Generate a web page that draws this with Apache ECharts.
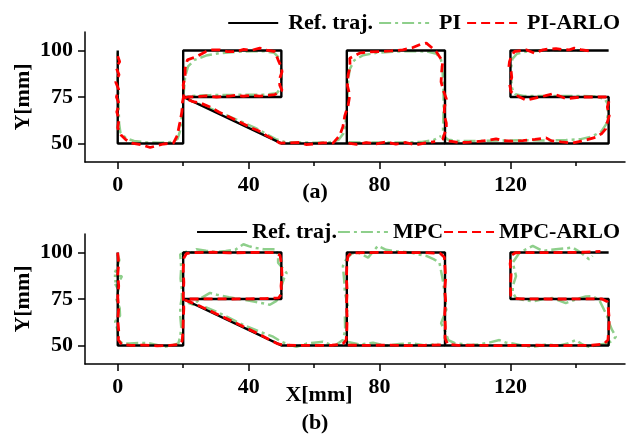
<!DOCTYPE html>
<html>
<head>
<meta charset="utf-8">
<script src="https://cdn.jsdelivr.net/npm/echarts@6/dist/echarts.min.js"></script>
<style>
  html, body { margin: 0; padding: 0; background: #fff; }
  #chart { width: 635px; height: 437px; }
</style>
</head>
<body>
<div id="chart"></div>
<script>
/* ---------------------------- data ---------------------------- */
const xMajorTicks = [0, 40, 80, 120];
const xMinorTicks = [20, 60, 100, 140];
const yTicks = [50, 75, 100];

// reference "LROS" path (O bottom kept as its own piece)
const refPath = [[0, 100], [0, 50], [20, 50], [20, 100], [50, 100], [50, 75], [20, 75], [50, 50], [70, 50],
  [70, 100], [100, 100], [100, 50], [150, 50], [150, 75], [120, 75], [120, 100], [150, 100]];
const refOBottom = [[70, 50], [100, 50]];

// (a) PI
const piPath = [[0, 99], [0.1, 92], [0, 84], [0.2, 76], [0.3, 68], [0.4, 61], [0.8, 56], [2.5, 52.8], [5, 51.3],
  [9, 50.5], [13, 50.4], [16.5, 50.8], [18.3, 52.5], [19.1, 57], [19.5, 63], [19.8, 70], [20.2, 78], [20.6, 86],
  [21.5, 91.5], [23.5, 95], [27, 97.3], [31, 98.6], [36, 99.3], [41, 99.6], [45, 99.6], [47.8, 98.8], [49.3, 96],
  [49.9, 91], [50, 85], [49.8, 80], [48.6, 77], [45, 76.2], [40, 76.2], [34, 76.1], [28, 76], [23, 75.6], [21, 75],
  [22.5, 72.8], [27, 69.8], [32, 66], [37, 62.3], [42, 58.4], [45.5, 55], [48.3, 52.3], [51, 50.8], [55, 50.5],
  [60, 50.4], [64.5, 50.5], [67.5, 52], [69, 55.5], [69.6, 61], [70, 68], [70.2, 76], [70.4, 84], [70.9, 90],
  [72.3, 94.8], [75, 97.5], [79, 98.8], [84, 99.4], [90, 99.7], [94.5, 99.5], [97.4, 98.3], [98.8, 95], [99.3, 88],
  [99.5, 80], [99.6, 72], [99.5, 64], [99.4, 58], [99.5, 54], [101, 52], [104, 51.3], [110, 51.3], [117, 51.6],
  [124, 51.7], [131, 51.6], [137, 51.8], [141.5, 52.3], [145, 53.8], [147.8, 56.5], [149.3, 60.5], [149.8, 66],
  [149.8, 71], [148.8, 74], [146, 75.3], [141, 75.6], [135, 75.6], [129, 75.5], [124, 75.5], [121.5, 76.5],
  [120.5, 79.5], [120.2, 85], [120.2, 91], [120.6, 95.5], [122, 98.3], [125, 99.5], [130, 100], [135, 100.2],
  [140, 100.2], [142.5, 100]];
const piOBottom = [[70.5, 50.6], [76, 50.5], [82, 50.5], [88, 50.6], [93, 50.8], [96.5, 51.8], [98.8, 54]];

// (a) PI-ARLO
const piArloPath = [[0, 97], [0.6, 94], [-0.5, 91], [0.4, 87], [-0.6, 83], [0.3, 79], [-0.4, 75], [0.5, 71],
  [-0.3, 67], [0.4, 63], [0, 58.5], [1, 54.6], [2.5, 52], [4.3, 50.2], [7, 49.4], [9.9, 47.8], [12, 48.8],
  [14, 49.7], [17, 50.2], [18.2, 54.2], [19, 61.4], [19.6, 67], [19.8, 72.3], [20.3, 77], [20, 81.4], [20.6, 86],
  [20.6, 90.4], [21.3, 95], [24, 96.7], [27, 99.5], [29, 100.4], [31.2, 100.4], [33.5, 99.4], [36.3, 99.5],
  [38.5, 100.6], [41, 100.2], [43.4, 101.3], [45.5, 100.3], [48, 99.5], [49, 95], [50, 91], [50.2, 88.6],
  [49.5, 85], [49.5, 81.4], [50.2, 78.6], [48, 76.3], [45.5, 75.8], [43.4, 75.5], [40.5, 75.8], [38.4, 75.4],
  [36, 75.9], [34.3, 75.5], [32, 75.3], [30.2, 75], [27, 75.6], [24, 75.1], [21.5, 75], [20.3, 74.5],
  [23, 72.5], [25.2, 71.8], [28.2, 69.6], [31, 66.8], [34.3, 64.1], [37, 61.8], [40.4, 58.7], [43, 56.8],
  [45.5, 54.2], [47.5, 52.3], [49.5, 50.2], [52, 50.3], [55.6, 50.5], [57.5, 49.4], [59.7, 49.7], [62.5, 50.3],
  [65.8, 50.2], [67.8, 54.2], [68.8, 59], [69.4, 65], [70.4, 70.5], [70.9, 75.9], [70.2, 81], [70.4, 86.8],
  [71, 91.5], [70.9, 95.9], [73.9, 98.6], [76.5, 99.2], [80, 99.5], [83.5, 99.8], [87.1, 100.4], [90, 101.5],
  [92.5, 103.3], [94.3, 104], [96, 101.5], [97.3, 99.5], [99.3, 94], [99, 89], [98.8, 83.2], [99.6, 78],
  [100.4, 74.1], [99.8, 69], [99.8, 65], [100.4, 61], [100.4, 57.8], [99.3, 52.4], [101.5, 51.2], [104.5, 50.4],
  [107.5, 50.7], [111, 51.2], [113.5, 51.8], [115.6, 52.5], [117.6, 51.5], [120.5, 51.2], [123.7, 51.5],
  [127.5, 52.2], [130.9, 53], [132.4, 51.5], [135.5, 50.8], [139, 50.2], [141, 51], [143.5, 52], [146.1, 53.3],
  [148, 55.5], [149.1, 57.8], [149.6, 61.5], [150.2, 65], [149.6, 69.6], [150.2, 73.2], [149.1, 75], [146, 75],
  [142, 75], [139.5, 74.6], [137, 74.1], [135, 75.5], [133, 76.8], [130.5, 75.6], [128.9, 75], [126.5, 74],
  [124.8, 73.2], [122.8, 75], [120.2, 77.7], [119.7, 82.3], [120.4, 85.5], [120.2, 88.6], [119.5, 91],
  [119.7, 94], [120.3, 97], [121.2, 99.5], [124.8, 100.4], [127.3, 98.6], [129.9, 100.4], [131.8, 100.9],
  [133.9, 101], [136, 100.5], [138, 100.4], [139.5, 101.3], [141.5, 100.5], [144, 99.8]];
const piArloOBottom = [[70.5, 50.2], [73, 49.5], [76, 50.4], [79, 49.8], [82, 50.8], [85, 49.6], [88, 50.5],
  [91, 49.2], [94, 50.3], [97, 51]];

// (b) MPC
const mpcPath = [[0, 99], [0.5, 96], [-0.2, 92], [-1.3, 87.5], [1.3, 87.3], [0.5, 84.6], [-1.3, 84.6], [0.2, 80],
  [-0.4, 75], [0.6, 70], [0.7, 66], [-0.8, 62.8], [0, 58], [0.2, 52.9], [1.5, 51], [3.8, 51.1], [6.9, 51.4],
  [9.9, 51.1], [12, 50.2], [14, 49.2], [16.5, 50], [18.5, 51], [19.1, 54.7], [19.4, 60], [19.1, 66], [19.1, 71],
  [19.6, 75.5], [19.6, 80], [19.2, 86], [19.4, 92], [19.1, 99], [21, 100.5], [23.2, 100], [24, 101.8], [27, 101],
  [30, 100.3], [33, 100.8], [36, 101.6], [38.4, 104.5], [40, 103.5], [41.5, 102.7], [44.6, 101.8], [48.5, 101.8],
  [49, 98], [49, 94.6], [51.6, 89], [50.8, 86], [50, 81.8], [50, 77.5], [48.5, 74], [46.5, 71.9], [42, 73.5],
  [38.4, 74.6], [34, 76], [30.3, 77.3], [28.2, 78.3], [25.5, 75.5], [23.1, 71.9], [21.5, 73], [23, 72],
  [27, 70.5], [31, 67.5], [35.3, 63.7], [39, 60.5], [43.4, 57.4], [47.5, 54.7], [50, 52], [52.5, 50.3],
  [54.6, 49.2], [57.7, 51], [60, 51.5], [62.7, 52], [64.5, 50.8], [66.4, 50], [68.8, 52.9], [69.5, 58],
  [69.4, 65.6], [70.5, 70], [69.4, 78.3], [69.2, 85], [68.8, 92.7], [69.7, 96], [71.5, 99.5], [73.4, 100],
  [76.5, 97.3], [78, 100.5], [79.5, 103.6], [82, 101.5], [84.1, 100.9], [89.4, 100], [92, 99], [94.3, 98.2],
  [96.5, 96.5], [98.3, 94.6], [99.3, 85.5], [99.9, 78], [100.4, 69.2], [98.8, 62], [100.2, 57], [101, 52.9],
  [103, 51.2], [105.4, 50.7], [108, 50.2], [110.5, 50.6], [113.5, 51.5], [116.6, 52.9], [118.5, 51.6],
  [120.7, 51], [123.5, 50], [126.8, 49.2], [131, 50.5], [135, 50], [137.5, 51], [140, 52.9], [142, 50.5],
  [144, 49.2], [147, 50.5], [149.5, 51], [151.2, 52.5], [152.2, 54.7], [151, 58.5], [150.2, 62], [149.5, 66],
  [148.6, 69.2], [147.1, 74.6], [145, 76.5], [143, 76.4], [140, 74.8], [136.9, 72.8], [132.9, 75.5],
  [129.8, 74.8], [126.8, 73.7], [124, 74.5], [121.7, 75.5], [120.7, 78.5], [120.7, 81.9], [121.7, 87.3],
  [121.2, 91], [120.7, 94.6], [122.8, 100], [124.8, 101.8], [126.8, 103.6], [129.8, 100.9], [133.9, 101.8],
  [136.5, 102.2], [139, 102.7], [141.5, 100], [144, 96.4], [145.1, 98.2]];
const mpcOBottom = [[70, 52], [74, 50.5], [78, 51.5], [82, 49.8], [86, 50.8], [90, 51.2], [94, 50], [98, 50.8]];

// (b) MPC-ARLO
const mpcArloPath = [[0, 100], [0.3, 94], [0, 88], [0.3, 82], [0, 76], [0.3, 70], [0, 64], [0.3, 58], [0.2, 53],
  [1.2, 50.5], [4, 50], [8, 50.2], [12, 49.8], [16, 50], [18.8, 50.5], [19.7, 52.5], [19.9, 57], [20, 63],
  [20.2, 70], [20, 77], [20.2, 84], [20, 91], [20.2, 97], [21, 99.5], [24, 100], [29, 100.2], [34, 99.8],
  [39, 100], [44, 100.1], [48, 100], [49.6, 98.5], [50, 94], [50.2, 88], [49.9, 82], [50.1, 78], [49.2, 75.6],
  [45, 75.2], [40, 75.1], [35, 75], [30, 75.1], [25, 75], [21.5, 75], [20.5, 74.5], [23, 72.8], [27, 69.6],
  [31, 66.3], [35, 63], [39, 59.6], [43, 56.2], [46.5, 53], [49, 50.8], [51.5, 50.1], [56, 50], [61, 50],
  [65.5, 50.1], [68.8, 50.8], [69.8, 53], [70, 58], [70.1, 65], [69.9, 72], [70.1, 79], [69.9, 86], [70, 93],
  [70.3, 98], [71.5, 99.8], [76, 100], [82, 100.1], [88, 100], [94, 100], [98.5, 99.6], [99.8, 97.5], [100, 92],
  [100.2, 86], [99.9, 80], [100.2, 74], [99.9, 67], [100.1, 60], [100, 54], [100.8, 50.6], [104, 50], [110, 50.1],
  [116, 49.9], [122, 50], [128, 50.1], [134, 49.9], [140, 50], [145, 50.1], [148.6, 50.8], [149.8, 53], [150, 58],
  [150.2, 64], [149.9, 70], [149.6, 73.5], [148, 75], [143, 75.1], [137, 75], [131, 75], [125, 75.1],
  [121.3, 75.2], [120.1, 77], [120, 82], [120.2, 88], [119.9, 94], [120.3, 98.5], [121.5, 99.9], [126, 100],
  [132, 100], [138, 100.1], [143, 100.2], [147.5, 100.6]];
const mpcArloOBottom = [[70.3, 50.2], [76, 50], [82, 50.2], [88, 49.9], [94, 50.1], [99.5, 50.3]];

/* --------------------------- chart ---------------------------- */
const FONT = 'Liberation Serif';
const BLACK = '#000000';
const GREEN = '#8ecf8b';
const RED = '#ff0000';

const refStyle = { color: BLACK, width: 2.4, type: 'solid' };
const greenStyle = { color: GREEN, width: 2.5, type: [12, 4, 3, 4] };
const redStyle = { color: RED, width: 2.8, type: [9, 5] };

const chart = echarts.init(document.getElementById('chart'), null, { renderer: 'canvas' });

const boldText = { fontFamily: FONT, fontWeight: 'bold', fontSize: 22, color: BLACK };

const xMajor = gridIndex => ({
  type: 'value',
  gridIndex,
  position: 'bottom',
  min: -10,
  max: 155,
  axisLine: { show: true, onZero: false, lineStyle: { color: BLACK, width: 1.5 } },
  axisTick: { show: true, customValues: xMajorTicks, length: 7, lineStyle: { color: BLACK, width: 1.5 } },
  axisLabel: { ...boldText, customValues: xMajorTicks, margin: 12 },
  splitLine: { show: false }
});

const xMinor = gridIndex => ({
  type: 'value',
  gridIndex,
  position: 'bottom',
  min: -10,
  max: 155,
  axisLine: { show: false, onZero: false },
  axisTick: { show: true, customValues: xMinorTicks, length: 4, lineStyle: { color: BLACK, width: 1.5 } },
  axisLabel: { show: false },
  splitLine: { show: false }
});

const yAxis = gridIndex => ({
  type: 'value',
  gridIndex,
  min: 40,
  max: 110,
  name: 'Y[mm]',
  nameLocation: 'middle',
  nameGap: 51,
  nameMoveOverlap: false,
  nameTextStyle: boldText,
  axisLine: { show: true, onZero: false, lineStyle: { color: BLACK, width: 1.5 } },
  axisTick: { show: true, customValues: yTicks, length: 7, lineStyle: { color: BLACK, width: 1.5 } },
  axisLabel: { ...boldText, customValues: yTicks, margin: 12 },
  splitLine: { show: false }
});

const line = (name, data, xi, yi, style, z) => ({
  type: 'line',
  name,
  data,
  xAxisIndex: xi,
  yAxisIndex: yi,
  symbol: 'none',
  showSymbol: false,
  lineStyle: style,
  itemStyle: { color: style.color },
  z,
  silent: true
});

// legend: line only, hide the default circle marker
const legendBase = {
  right: 10,
  itemWidth: 50,
  itemHeight: 14,
  itemStyle: { opacity: 0 },
  textStyle: { ...boldText, lineHeight: 24 }
};

chart.setOption({
  animation: false,
  grid: [
    { left: 85, top: 32, width: 540, height: 130 },
    { left: 85, top: 234, width: 540, height: 130 }
  ],
  xAxis: [xMajor(0), xMinor(0), xMajor(1), xMinor(1)],
  yAxis: [yAxis(0), yAxis(1)],
  legend: [
    { ...legendBase, top: 6, itemGap: 5, data: ['Ref. traj.', 'PI', 'PI-ARLO'],
      textStyle: { ...legendBase.textStyle, padding: [0, 0, 0, 5] } },
    { ...legendBase, top: 215, itemGap: 0, data: ['Ref. traj.', 'MPC', 'MPC-ARLO'] }
  ],
  graphic: [
    { type: 'text', x: 315, y: 192, style: { text: '(a)', font: 'bold 22px "Liberation Serif"', fill: BLACK, align: 'center', verticalAlign: 'middle' } },
    { type: 'text', x: 319, y: 395, style: { text: 'X[mm]', font: 'bold 22px "Liberation Serif"', fill: BLACK, align: 'center', verticalAlign: 'middle' } },
    { type: 'text', x: 315, y: 423, style: { text: '(b)', font: 'bold 22px "Liberation Serif"', fill: BLACK, align: 'center', verticalAlign: 'middle' } }
  ],
  series: [
    // (a)
    line('Ref. traj.', refPath, 0, 0, refStyle, 3),
    line('Ref. traj.', refOBottom, 0, 0, refStyle, 3),
    line('PI', piPath, 0, 0, greenStyle, 2),
    line('PI', piOBottom, 0, 0, greenStyle, 2),
    line('PI-ARLO', piArloPath, 0, 0, redStyle, 4),
    line('PI-ARLO', piArloOBottom, 0, 0, redStyle, 4),
    // (b)
    line('Ref. traj.', refPath, 2, 1, refStyle, 3),
    line('Ref. traj.', refOBottom, 2, 1, refStyle, 3),
    line('MPC', mpcPath, 2, 1, greenStyle, 2),
    line('MPC', mpcOBottom, 2, 1, greenStyle, 2),
    line('MPC-ARLO', mpcArloPath, 2, 1, redStyle, 4),
    line('MPC-ARLO', mpcArloOBottom, 2, 1, redStyle, 4)
  ]
});
</script>
</body>
</html>
